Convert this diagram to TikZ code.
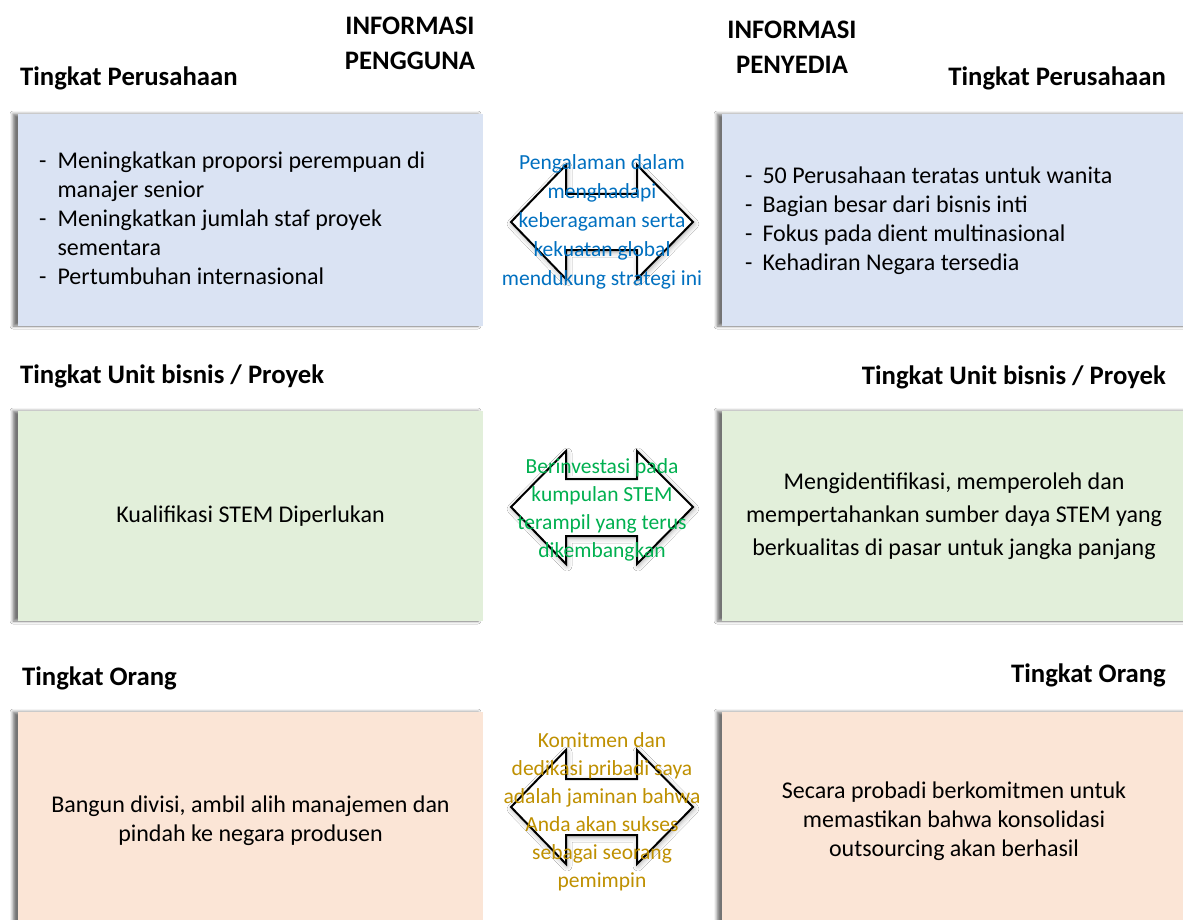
\documentclass[tikz,border=0pt]{standalone}
\usepackage{fontspec}
\setmainfont{Carlito}
\usetikzlibrary{shadows.blur}

\definecolor{boxblue}{HTML}{DAE3F3}
\definecolor{boxgreen}{HTML}{E2EFDA}
\definecolor{boxpeach}{HTML}{FBE5D6}
\definecolor{txtblue}{HTML}{0070C0}
\definecolor{txtgreen}{HTML}{00B050}
\definecolor{txtgold}{HTML}{BF9000}

\tikzset{
  panel/.style={draw=none, minimum width=470, minimum height=212, inner sep=0pt,
    align=center, font=\fontsize{24}{29}\selectfont,
    blur shadow={shadow xshift=-5pt, shadow yshift=0pt, shadow blur radius=3pt, shadow opacity=55}},
  level/.style={inner sep=0pt, font=\bfseries\fontsize{26.7}{30}\selectfont},
  colhead/.style={inner sep=0pt, align=center, font=\bfseries\fontsize{26.7}{35}\selectfont},
  listtext/.style={inner sep=0pt, font=\fontsize{24}{29}\selectfont},
  twoway/.style={draw=black, line width=2pt, fill=white, line join=miter,
    blur shadow={shadow xshift=1pt, shadow yshift=-2pt, shadow blur radius=5pt, shadow opacity=35}},
  midtext/.style={inner sep=0pt, align=center}
}

\begin{document}
\begin{tikzpicture}[x=1pt, y=-1pt]
\useasboundingbox (0,0) rectangle (1183,920);
\fill[white] (0,0) rectangle (1183,920);

% column headings
\node[colhead] (userinfo) at (410,43) {INFORMASI\\PENGGUNA};
\node[colhead] (provinfo) at (792,47.5) {INFORMASI\\PENYEDIA};

% level titles
\node[level, anchor=west] (lt1) at (20,78) {Tingkat Perusahaan};
\node[level, anchor=east] (rt1) at (1166,78) {Tingkat Perusahaan};
\node[level, anchor=west] (lt2) at (20,376) {Tingkat Unit bisnis / Proyek};
\node[level, anchor=east] (rt2) at (1166,377) {Tingkat Unit bisnis / Proyek};
\node[level, anchor=west] (lt3) at (22,678) {Tingkat Orang};
\node[level, anchor=east] (rt3) at (1166,675) {Tingkat Orang};

% company level
\node[panel, fill=boxblue, minimum width=465] (ul1) at (250.5,220) {};
\node[panel, fill=boxblue] (pl1) at (957,220) {};
\node[listtext, anchor=west] (ulist) at (39,221) {%
  \begin{tabular}{@{}l@{\hspace{11pt}}l@{}}
  - & Meningkatkan proporsi perempuan di\\
    & manajer senior\\
  - & Meningkatkan jumlah staf proyek\\
    & sementara\\
  - & Pertumbuhan internasional
  \end{tabular}};
\node[listtext, anchor=west] (plist) at (745,221.5) {%
  \begin{tabular}{@{}l@{\hspace{10pt}}l@{}}
  - & 50 Perusahaan teratas untuk wanita\\
  - & Bagian besar dari bisnis inti\\
  - & Fokus pada dient multinasional\\
  - & Kehadiran Negara tersedia
  \end{tabular}};

% business unit level
\node[panel, fill=boxgreen, minimum width=465, minimum height=210] (ul2) at (250.5,516) {Kualifikasi STEM Diperlukan};
\node[panel, fill=boxgreen, minimum height=210, font=\fontsize{24}{33}\selectfont] (pl2) at (957,516)
  {\hspace*{-6pt}Mengidentifikasi, memperoleh dan\\\hspace*{-6pt}mempertahankan sumber daya STEM yang\\\hspace*{-6pt}berkualitas di pasar untuk jangka panjang};

% personal level
\node[panel, fill=boxpeach, minimum width=465, minimum height=218] (ul3) at (250.5,821)
  {Bangun divisi, ambil alih manajemen dan\\pindah ke negara produsen};
\node[panel, fill=boxpeach, minimum height=218] (pl3) at (957,821)
  {\hspace*{-6pt}Secara probadi berkomitmen untuk\\\hspace*{-6pt}memastikan bahwa konsolidasi\\\hspace*{-6pt}outsourcing akan berhasil};

% two-way arrows between the columns
\draw[twoway] (511,222) -- ++(55,-57) -- ++(0,29) -- ++(71,0) -- ++(0,-29) -- ++(56,57)
  -- ++(-56,57) -- ++(0,-29) -- ++(-71,0) -- ++(0,29) -- cycle;
\draw[twoway] (511,507) -- ++(55,-56) -- ++(0,28) -- ++(71,0) -- ++(0,-28) -- ++(56,56)
  -- ++(-56,57) -- ++(0,-28) -- ++(-71,0) -- ++(0,28) -- cycle;
\draw[twoway] (511,807) -- ++(55,-57) -- ++(0,29) -- ++(71,0) -- ++(0,-29) -- ++(56,57)
  -- ++(-56,57) -- ++(0,-29) -- ++(-71,0) -- ++(0,29) -- cycle;

\node[midtext, text=txtblue, font=\fontsize{21.5}{29}\selectfont] (m1) at (602,222)
  {Pengalaman dalam\\menghadapi\\keberagaman serta\\kekuatan global\\mendukung strategi ini};
\node[midtext, text=txtgreen, font=\fontsize{21.5}{28}\selectfont] (m2) at (602,510)
  {Berinvestasi pada\\kumpulan STEM\\terampil yang terus\\dikembangkan};
\node[midtext, text=txtgold, font=\fontsize{21.5}{28}\selectfont] (m3) at (602,812)
  {Komitmen dan\\dedikasi pribadi saya\\adalah jaminan bahwa\\Anda akan sukses\\sebagai seorang\\pemimpin};
\end{tikzpicture}
\end{document}
